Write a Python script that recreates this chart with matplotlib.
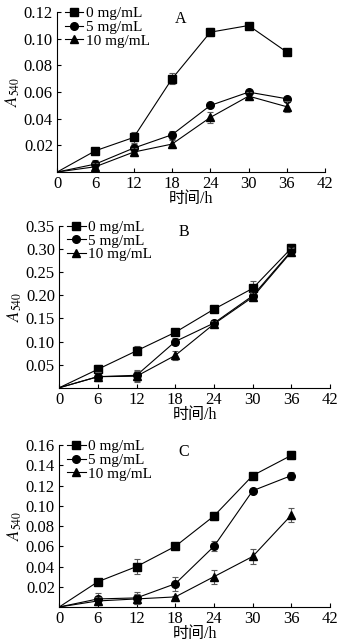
import matplotlib.pyplot as plt

plt.rcParams['font.family'] = ['Liberation Serif', 'Noto Sans CJK SC']
plt.rcParams['mathtext.fontset'] = 'stix'

# Данные
hours = [0, 6, 12, 18, 24, 30, 36]
labels = ['0 mg/mL', '5 mg/mL', '10 mg/mL']
markers = ['s', 'o', '^']

a_vals = [[0, 0.016, 0.026, 0.070, 0.105, 0.110, 0.090],
          [0, 0.006, 0.018, 0.028, 0.050, 0.060, 0.055],
          [0, 0.004, 0.015, 0.021, 0.041, 0.057, 0.049]]
a_err = [[0, 0.002, 0.004, 0.004, 0.003, 0.002, 0.001],
         [0, 0.003, 0.003, 0.003, 0.001, 0.001, 0.001],
         [0, 0.003, 0.003, 0.003, 0.004, 0.003, 0.004]]

b_vals = [[0, 0.040, 0.080, 0.120, 0.170, 0.215, 0.302],
          [0, 0.024, 0.027, 0.100, 0.140, 0.199, 0.296],
          [0, 0.024, 0.025, 0.070, 0.138, 0.196, 0.294]]
b_err = [[0, 0.010, 0.010, 0.005, 0.007, 0.015, 0.010],
         [0, 0.010, 0.012, 0.008, 0.007, 0.008, 0.008],
         [0, 0.010, 0.012, 0.010, 0.006, 0.008, 0.008]]

c_vals = [[0, 0.025, 0.040, 0.060, 0.090, 0.130, 0.150],
          [0, 0.008, 0.009, 0.023, 0.060, 0.115, 0.130],
          [0, 0.006, 0.008, 0.010, 0.030, 0.050, 0.091]]
c_err = [[0, 0.003, 0.007, 0.003, 0.004, 0.003, 0.004],
         [0, 0.006, 0.006, 0.007, 0.005, 0.002, 0.004],
         [0, 0.004, 0.005, 0.001, 0.007, 0.007, 0.007]]

x_ticks = [0, 6, 12, 18, 24, 30, 36, 42]


def draw_panel(ax, values, errors, letter, ymax, ystep):
    handles = []
    for v, e, m, lab in zip(values, errors, markers, labels):
        ax.errorbar(hours[1:], v[1:], yerr=e[1:], fmt='none', ecolor='0.35',
                    elinewidth=0.8, capsize=2.5, capthick=0.8)
        line, = ax.plot(hours, v, color='black', lw=0.8, marker=m, ms=5.5,
                        markevery=list(range(1, len(hours))), label=lab)
        handles.append(line)
    ax.set_xlim(0, 42)
    ax.set_ylim(0, ymax)
    ax.set_xticks(x_ticks)
    n = int(round(ymax / ystep))
    ax.set_yticks([ystep * i for i in range(1, n + 1)])
    ax.set_yticklabels(['%.2f' % (ystep * i) for i in range(1, n + 1)])
    ax.tick_params(direction='in', labelsize=12, length=3, width=0.8, pad=3)
    for s in ['top', 'right']:
        ax.spines[s].set_visible(False)
    for s in ['left', 'bottom']:
        ax.spines[s].set_linewidth(0.8)
    ax.set_xlabel('时间/h', fontsize=11.5, labelpad=-1)
    ax.set_ylabel('$A_{540}$', fontsize=12, labelpad=1)
    ax.legend(handles=handles, loc='upper left', bbox_to_anchor=(0.03, 1.035), frameon=False,
              fontsize=11, handlelength=1.2, handletextpad=0.15, labelspacing=0.0,
              borderpad=0, borderaxespad=0)
    ax.text(0.46, 0.96, letter, transform=ax.transAxes, fontsize=11.5, ha='center', va='center')


fig = plt.figure(figsize=(3.46, 6.42), dpi=100)
ax_a = fig.add_axes([0.165, 0.732, 0.775, 0.249])
ax_b = fig.add_axes([0.171, 0.396, 0.783, 0.252])
ax_c = fig.add_axes([0.171, 0.0545, 0.783, 0.252])

draw_panel(ax_a, a_vals, a_err, 'A', 0.12, 0.02)
draw_panel(ax_b, b_vals, b_err, 'B', 0.35, 0.05)
draw_panel(ax_c, c_vals, c_err, 'C', 0.16, 0.02)

plt.savefig('out.png', dpi=100)
